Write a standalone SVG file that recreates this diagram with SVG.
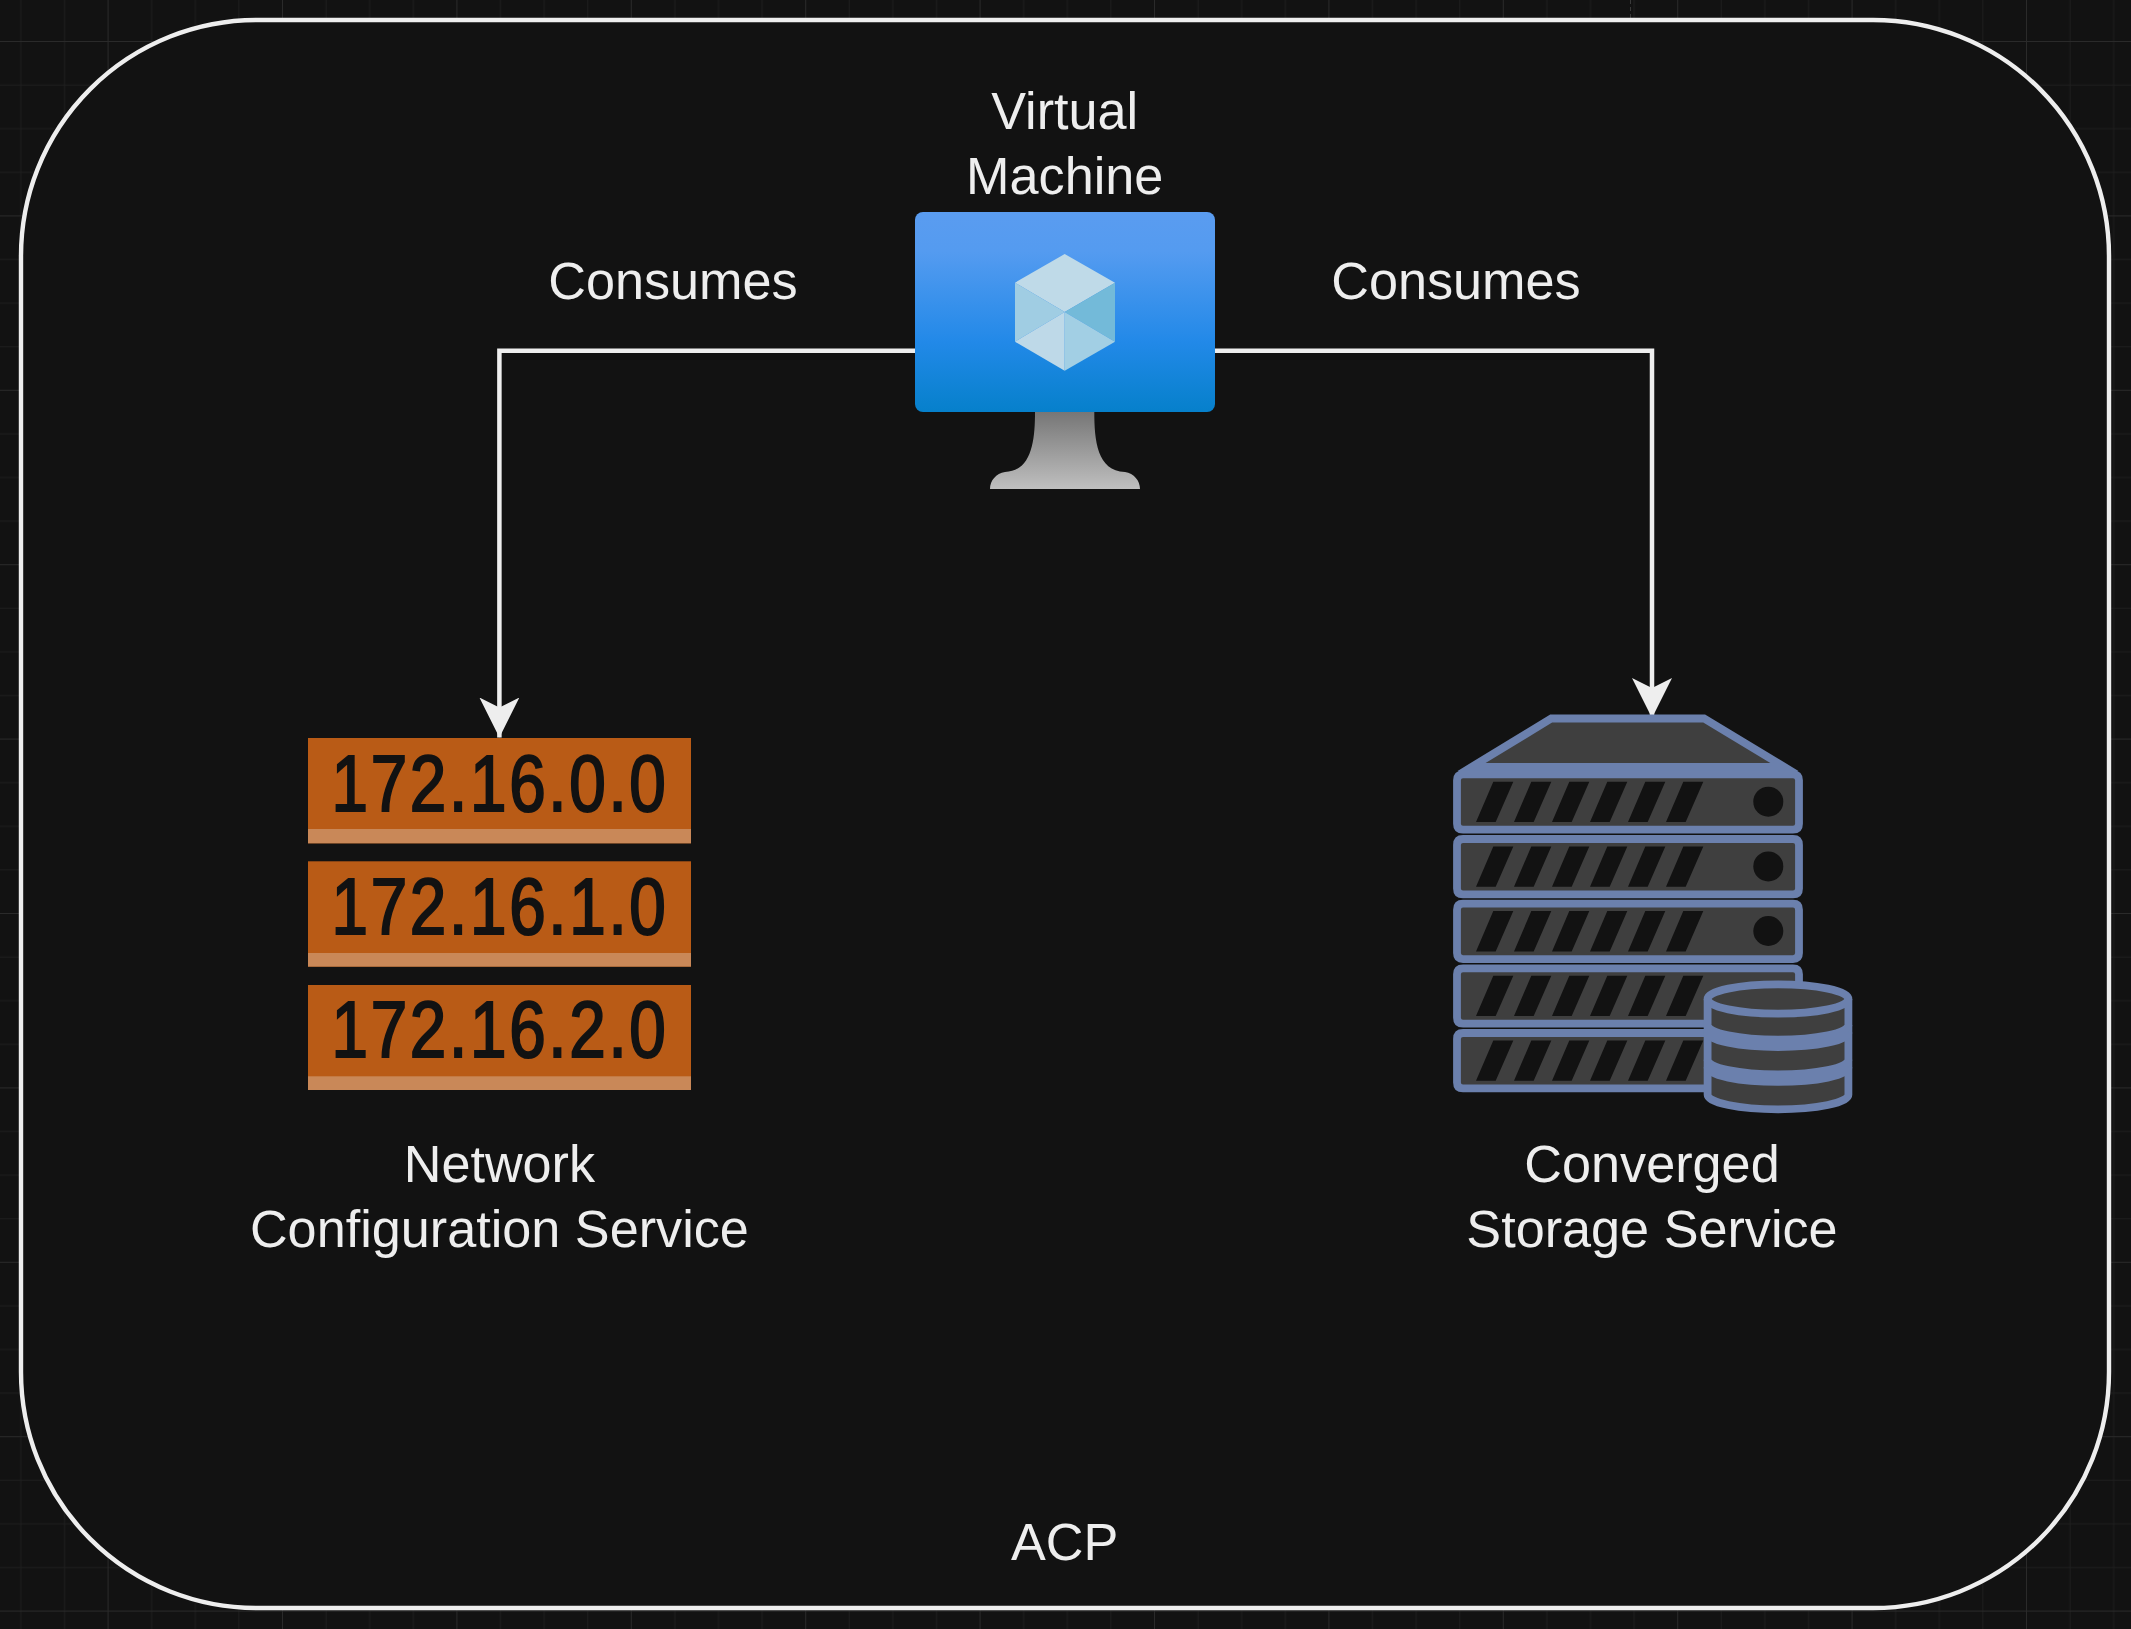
<svg xmlns="http://www.w3.org/2000/svg" width="2131" height="1629" viewBox="0 0 2131 1629">
<style>
.t{font-family:"Liberation Sans",Arial,sans-serif;font-size:52.2px;fill:#eee;text-anchor:middle}
.ip{font-family:"Liberation Sans",Arial,sans-serif;font-size:80px;letter-spacing:3.3px;fill:#121212;stroke:#121212;stroke-width:2.2px;text-anchor:middle}
.or{fill:#b95b16}.ob{fill:#c98858}
.c{fill:none;stroke:#eee;stroke-width:4.5}
.s{fill:#3f3f3f;stroke:#6b80ad;stroke-width:7.8;stroke-linejoin:round}
.d{fill:#121212}
</style>
<defs>
<pattern id="grid" x="-66.8" y="41" width="174.4" height="174.4" patternUnits="userSpaceOnUse"><path d="M44.1 0V174.4M87.7 0V174.4M131.3 0V174.4M0 44.1H174.4M0 87.7H174.4M0 131.3H174.4" fill="none" stroke="#1e1e1e" stroke-width="1"/><path d="M0.5 0V174.4M0 0.5H174.4" fill="none" stroke="#2a2a2a" stroke-width="1"/></pattern>
<linearGradient id="vm" x1="0" y1="0" x2="0" y2="1"><stop offset="0" stop-color="#5a9cf0"/><stop offset=".2" stop-color="#549bf0"/><stop offset=".65" stop-color="#2289e8"/><stop offset="1" stop-color="#0680cb"/></linearGradient>
<linearGradient id="st" x1="0" y1="0" x2="0" y2="1"><stop offset="0" stop-color="#767676"/><stop offset="1" stop-color="#bfbfbf"/></linearGradient>
<marker id="a" markerUnits="userSpaceOnUse" markerWidth="44" markerHeight="44" refX="40" refY="20" orient="auto"><path d="M0 0L40 20L0 40L10 20Z" fill="#eee"/></marker>
<g id="rk"><path class="s" d="M1463 774.3H1793Q1799 774.3 1799 780.3V823.7Q1799 829.7 1793 829.7H1463Q1457 829.7 1457 823.7V780.3Q1457 774.3 1463 774.3Z"/>
<path class="d" d="M1493.3 781.7H1513.3L1495.7 822H1476ZM1531.3 781.7H1551.3L1533.7 822H1514ZM1569.3 781.7H1589.3L1571.7 822H1552ZM1607.3 781.7H1627.3L1609.7 822H1590ZM1645.3 781.7H1665.3L1647.7 822H1628ZM1683.3 781.7H1703.3L1685.7 822H1666Z"/></g>
</defs>
<rect width="2131" height="1629" fill="#121212"/>
<rect width="2131" height="1629" fill="url(#grid)"/>
<path d="M1630.5 0V18" stroke="#3a3a3a" stroke-width="1" stroke-dasharray="4 3"/>
<g id="frame"><rect x="21" y="20" width="2088" height="1588" rx="236" ry="236" fill="#121212" stroke="#eee" stroke-width="4.4"/><text class="t" x="1064.7" y="1559.5">ACP</text></g>
<g id="connectors">
<path class="c" d="M915 350.7H499.4V737.5" marker-end="url(#a)"/>
<path class="c" d="M1214 350.7H1652V718" marker-end="url(#a)"/>
<text class="t" x="673" y="298.5">Consumes</text>
<text class="t" x="1456" y="298.5">Consumes</text>
</g>
<g id="virtual-machine">
<text class="t" x="1064.7" y="129.3">Virtual</text><text class="t" x="1064.7" y="194.3">Machine</text>
<path fill="url(#st)" d="M1035 412C1035 440 1032 471 1005 472C996 473 990 481 990 489H1140C1140 481 1134 473 1125 472C1097 471 1094.3 440 1094.3 412Z"/>
<rect x="915" y="212" width="300" height="200" rx="8" fill="url(#vm)"/>
<path fill="#bfdae8" d="M1064.7 254L1115 282.7L1064.7 312L1015 282.7Z"/>
<path fill="#a0cde3" d="M1015 282.7L1064.7 312L1015 341.7Z"/>
<path fill="#73bad9" d="M1115 282.7V341.7L1064.7 312Z"/>
<path fill="#bed9e8" d="M1015 341.7L1064.7 312V370.7Z"/>
<path fill="#a2cfe4" d="M1115 341.7L1064.7 370.7V312Z"/>
</g>
<g id="network-config">
<rect class="or" x="308" y="738" width="383" height="105.3"/><rect class="ob" x="308" y="829" width="383" height="14.3"/>
<rect class="or" x="308" y="861.3" width="383" height="105.3"/><rect class="ob" x="308" y="953" width="383" height="13.6"/>
<rect class="or" x="308" y="985" width="383" height="105"/><rect class="ob" x="308" y="1076.3" width="383" height="13.7"/>
<text class="ip" transform="translate(500,810.5) scale(.82,1)">172.16.0.0</text>
<text class="ip" transform="translate(500,934) scale(.82,1)">172.16.1.0</text>
<text class="ip" transform="translate(500,1057) scale(.82,1)">172.16.2.0</text>
<text class="t" x="499.4" y="1181.7">Network</text><text class="t" x="499.4" y="1246.7">Configuration Service</text>
</g>
<g id="storage">
<path class="s" style="stroke-linejoin:miter" d="M1551.3 718.5H1704L1784.5 767H1471.5Z"/>
<use href="#rk"/><use href="#rk" y="64.7"/><use href="#rk" y="129.4"/><use href="#rk" y="194"/><use href="#rk" y="258.7"/>
<circle class="d" cx="1768.3" cy="801.7" r="15"/><circle class="d" cx="1768.3" cy="866.4" r="15"/><circle class="d" cx="1768.3" cy="931" r="15"/>
<path class="s" d="M1707.6 999A70.4 14.6 0 0 1 1848.4 999V1094.7A70.4 14.6 0 0 1 1707.6 1094.7Z"/>
<path class="s" style="fill:none" d="M1707.6 999A70.4 14.6 0 0 0 1848.4 999M1707.6 1025A70.4 14.6 0 0 0 1848.4 1025M1707.6 1032.4A70.4 14.6 0 0 0 1848.4 1032.4M1707.6 1059.8A70.4 14.6 0 0 0 1848.4 1059.8M1707.6 1067.3A70.4 14.6 0 0 0 1848.4 1067.3"/>
<text class="t" x="1652" y="1181.7">Converged</text><text class="t" x="1652" y="1246.7">Storage Service</text>
</g>
</svg>
